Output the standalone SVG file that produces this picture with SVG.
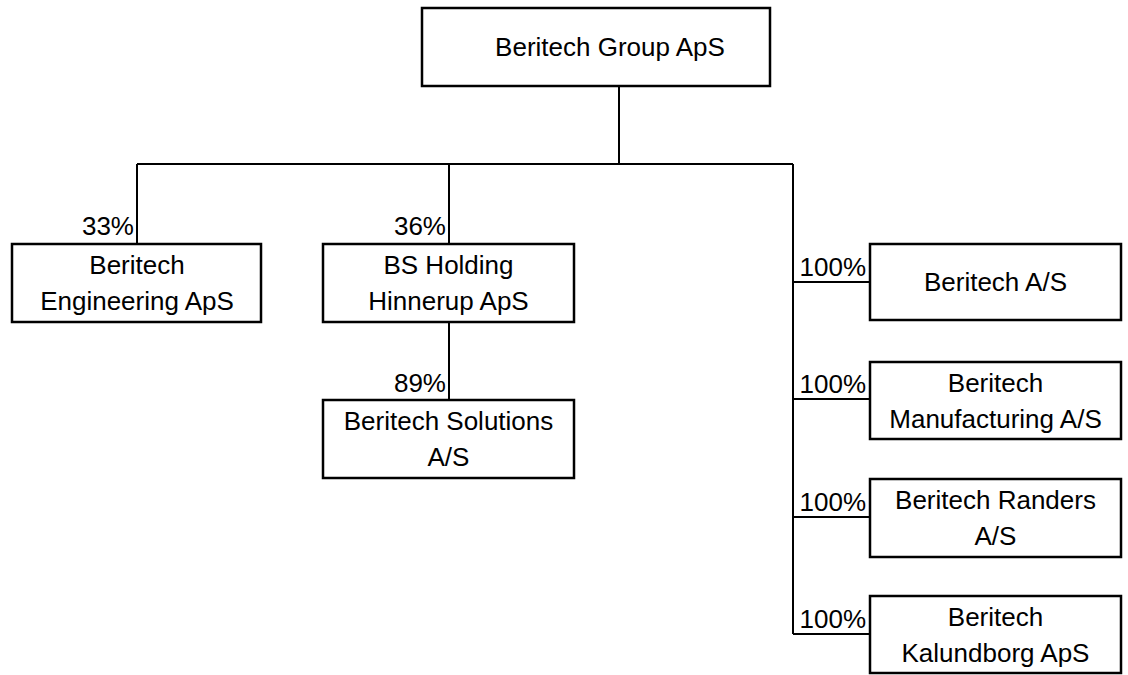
<svg xmlns="http://www.w3.org/2000/svg" width="1128" height="675" viewBox="0 0 1128 675">
<style>
.box{fill:#fff;stroke:#000;stroke-width:2.5}
.ln{fill:none;stroke:#000;stroke-width:2}
text{font-family:"Liberation Sans",Arial,sans-serif;font-size:26px;fill:#000}
.c{text-anchor:middle}
.r{text-anchor:end}
</style>
<rect width="1128" height="675" fill="#fff"/>
<g id="connectors">
<path class="ln" d="M619 86V164M137 164H793M137 164V244M449 164V244M449 322V400M793 164V634M793 282H870M793 399H870M793 517H870M793 634H870"/>
</g>
<g id="labels">
<text class="r" x="134" y="235">33%</text>
<text class="r" x="446" y="235">36%</text>
<text class="r" x="446" y="392">89%</text>
<text class="r" x="866" y="276">100%</text>
<text class="r" x="866" y="393">100%</text>
<text class="r" x="866" y="511">100%</text>
<text class="r" x="866" y="628">100%</text>
</g>
<g id="n-group"><rect class="box" x="422" y="8" width="348" height="78"/><text class="c" x="610" y="56">Beritech Group ApS</text></g>
<g id="n-engineering"><rect class="box" x="12" y="244" width="249" height="78"/><text class="c" x="137" y="274">Beritech</text><text class="c" x="137" y="310">Engineering ApS</text></g>
<g id="n-bsholding"><rect class="box" x="323" y="244" width="251" height="78"/><text class="c" x="448.5" y="274">BS Holding</text><text class="c" x="448.5" y="310">Hinnerup ApS</text></g>
<g id="n-solutions"><rect class="box" x="323" y="400" width="251" height="78"/><text class="c" x="448.5" y="430">Beritech Solutions</text><text class="c" x="448.5" y="466">A/S</text></g>
<g id="n-as"><rect class="box" x="870" y="244" width="251" height="76"/><text class="c" x="995.5" y="291">Beritech A/S</text></g>
<g id="n-manufacturing"><rect class="box" x="870" y="362" width="251" height="77"/><text class="c" x="995.5" y="392">Beritech</text><text class="c" x="995.5" y="428">Manufacturing A/S</text></g>
<g id="n-randers"><rect class="box" x="870" y="479" width="251" height="78"/><text class="c" x="995.5" y="509">Beritech Randers</text><text class="c" x="995.5" y="545">A/S</text></g>
<g id="n-kalundborg"><rect class="box" x="870" y="596" width="251" height="77"/><text class="c" x="995.5" y="626">Beritech</text><text class="c" x="995.5" y="662">Kalundborg ApS</text></g>
</svg>
